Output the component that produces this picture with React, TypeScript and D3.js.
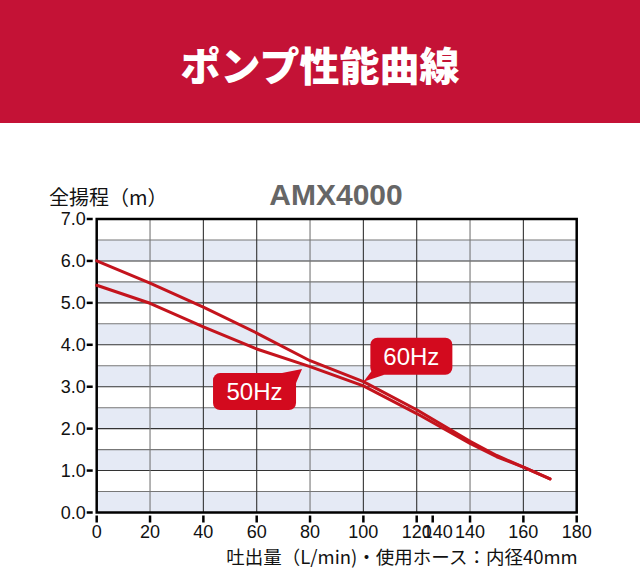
// Pump performance curve (AMX4000) drawn with d3 into an svg
import React, { useEffect, useRef } from "react";
import * as d3 from "d3";

// flow rate (L/min) and total head (m)
const flow60 = [0, 20, 40, 60, 80, 100, 120, 140, 150, 160, 170];
const head60 = [6.0, 5.47, 4.9, 4.28, 3.62, 3.12, 2.45, 1.7, 1.36, 1.08, 0.8];
const flow50 = [0, 20, 40, 60, 80, 100, 120, 140, 150, 160, 170];
const head50 = [5.42, 4.99, 4.43, 3.9, 3.48, 3.02, 2.36, 1.65, 1.33, 1.08, 0.8];

// x ticks as printed (the original has a stray "140" next to 120)
const xTickValues = [0, 20, 40, 60, 80, 100, 120, 126, 140, 160, 180];
const xTickLabels = ["0", "20", "40", "60", "80", "100", "120", "140", "140", "160", "180"];
const yTickValues = [0, 1, 2, 3, 4, 5, 6, 7];
const yTickLabels = ["0.0", "1.0", "2.0", "3.0", "4.0", "5.0", "6.0", "7.0"];

const title = "ポンプ性能曲線";
const model = "AMX4000";
const yTitle = "全揚程（m）";
const xTitle = "吐出量（L/min)・使用ホース：内径40mm";

const RED = "#c4141d";
const LATIN = "'Liberation Sans', Arial, sans-serif";
const CJK = "'Noto Sans CJK JP', 'Noto Sans', sans-serif";

export default function App() {
  const ref = useRef<SVGSVGElement>(null);

  useEffect(() => {
    const svg = d3.select(ref.current);
    svg.selectAll("*").remove();

    const width = 640;
    const height = 568;
    const left = 96.7;
    const right = 576.7;
    const top = 219;
    const bottom = 512.5;

    const x = d3.scaleLinear().domain([0, 180]).range([left, right]);
    const y = d3.scaleLinear().domain([0, 7]).range([bottom, top]);

    svg.append("rect").attr("width", width).attr("height", height).attr("fill", "#fff");

    //Banner
    svg.append("rect").attr("width", width).attr("height", 123).attr("fill", "#c41236");
    svg
      .append("text")
      .attr("x", 320)
      .attr("y", 81)
      .attr("text-anchor", "middle")
      .attr("fill", "#fff")
      .attr("font-family", CJK)
      .attr("font-weight", 900)
      .attr("font-size", 40)
      .text(title);

    //Alternating bands every 0.5 m
    const bands = d3.range(0, 7, 1);
    svg
      .append("g")
      .selectAll("rect")
      .data(bands)
      .enter()
      .append("rect")
      .attr("x", left)
      .attr("width", right - left)
      .attr("y", d => y(d + 0.5))
      .attr("height", d => y(d) - y(d + 0.5))
      .attr("fill", "#e5eaf5");

    //Grid
    const grid = svg.append("g").attr("stroke-width", 1.1);
    grid
      .selectAll("line.h")
      .data(d3.range(0.5, 7, 0.5))
      .enter()
      .append("line")
      .attr("x1", left)
      .attr("x2", right)
      .attr("y1", d => y(d))
      .attr("y2", d => y(d))
      .attr("stroke", (d, i) => (i % 2 === 0 ? "#777" : "#333"));
    grid
      .selectAll("line.v")
      .data(d3.range(20, 180, 20))
      .enter()
      .append("line")
      .attr("x1", d => x(d))
      .attr("x2", d => x(d))
      .attr("y1", top)
      .attr("y2", bottom)
      .attr("stroke", d => (d % 60 === 20 ? "#777" : "#333"));

    //Frame
    svg
      .append("rect")
      .attr("x", left)
      .attr("y", top)
      .attr("width", right - left)
      .attr("height", bottom - top)
      .attr("fill", "none")
      .attr("stroke", "#000")
      .attr("stroke-width", 2.5);

    //Curves
    const line = d3
      .line<[number, number]>()
      .x(d => x(d[0]))
      .y(d => y(d[1]));
    const curves = [
      d3.zip(flow60, head60) as [number, number][],
      d3.zip(flow50, head50) as [number, number][],
    ];
    svg
      .append("g")
      .selectAll("path")
      .data(curves)
      .enter()
      .append("path")
      .attr("d", d => line(d))
      .attr("fill", "none")
      .attr("stroke", RED)
      .attr("stroke-width", 3)
      .attr("stroke-linecap", "round")
      .attr("stroke-linejoin", "round");

    //Y axis ticks and labels
    const yAxis = svg.append("g");
    yAxis
      .selectAll("line")
      .data(yTickValues)
      .enter()
      .append("line")
      .attr("x1", left - 10)
      .attr("x2", left - 4)
      .attr("y1", d => y(d))
      .attr("y2", d => y(d))
      .attr("stroke", "#000")
      .attr("stroke-width", 2.5);
    yAxis
      .selectAll("text")
      .data(yTickValues)
      .enter()
      .append("text")
      .attr("x", left - 11)
      .attr("y", d => y(d))
      .attr("dy", "0.36em")
      .attr("text-anchor", "end")
      .attr("font-family", LATIN)
      .attr("font-size", 18)
      .attr("fill", "#111")
      .text((d, i) => yTickLabels[i]);

    //X axis ticks and labels
    const xAxis = svg.append("g");
    xAxis
      .selectAll("line")
      .data(xTickValues)
      .enter()
      .append("line")
      .attr("x1", d => x(d))
      .attr("x2", d => x(d))
      .attr("y1", bottom + 3)
      .attr("y2", bottom + 10)
      .attr("stroke", "#000")
      .attr("stroke-width", 2.5);
    xAxis
      .selectAll("text")
      .data(xTickValues)
      .enter()
      .append("text")
      .attr("x", (d, i) => x(d) + (i === 7 ? 5 : 0))
      .attr("y", bottom + 25)
      .attr("text-anchor", "middle")
      .attr("font-family", LATIN)
      .attr("font-size", 18)
      .attr("fill", "#111")
      .text((d, i) => xTickLabels[i]);

    //Titles
    svg
      .append("text")
      .attr("x", 49)
      .attr("y", 205)
      .attr("font-family", CJK)
      .attr("font-size", 20)
      .attr("fill", "#111")
      .text(yTitle);
    svg
      .append("text")
      .attr("x", 336)
      .attr("y", 205)
      .attr("text-anchor", "middle")
      .attr("font-family", LATIN)
      .attr("font-weight", "bold")
      .attr("font-size", 30)
      .attr("fill", "#666")
      .text(model);
    svg
      .append("text")
      .attr("x", right + 1)
      .attr("y", 564)
      .attr("text-anchor", "end")
      .attr("font-family", CJK)
      .attr("font-size", 18.5)
      .attr("fill", "#111")
      .text(xTitle);

    //Callouts: tip in data units, box offset from tip
    const callouts = [
      { label: "60Hz", at: [100, 3.12], box: [7, -44, 82, 37], tail: "bl" },
      { label: "50Hz", at: [77, 3.42], box: [-89, 4, 83, 37], tail: "tr" },
    ];
    const call = svg.append("g");
    callouts.forEach(c => {
      const tx = x(c.at[0]);
      const ty = y(c.at[1]);
      const [bx, by, bw, bh] = c.box;
      const x0 = tx + bx;
      const y0 = ty + by;
      call
        .append("rect")
        .attr("x", x0)
        .attr("y", y0)
        .attr("width", bw)
        .attr("height", bh)
        .attr("rx", 7)
        .attr("fill", "#d30a1e");
      const tail =
        c.tail === "bl"
          ? `M${x0 + 3},${y0 + bh - 6} L${tx},${ty} L${x0 + 14},${y0 + bh} Z`
          : `M${x0 + bw - 14},${y0} L${tx},${ty} L${x0 + bw},${y0 + 10} Z`;
      call.append("path").attr("d", tail).attr("fill", "#d30a1e");
      call
        .append("text")
        .attr("x", x0 + bw / 2)
        .attr("y", y0 + bh / 2)
        .attr("dy", "0.36em")
        .attr("text-anchor", "middle")
        .attr("font-family", LATIN)
        .attr("font-size", 24)
        .attr("fill", "#fff")
        .text(c.label);
    });
  }, []);

  return (
    <svg
      ref={ref}
      width={640}
      height={568}
      style={{ position: "absolute", left: 0, top: 0, display: "block" }}
    />
  );
}
